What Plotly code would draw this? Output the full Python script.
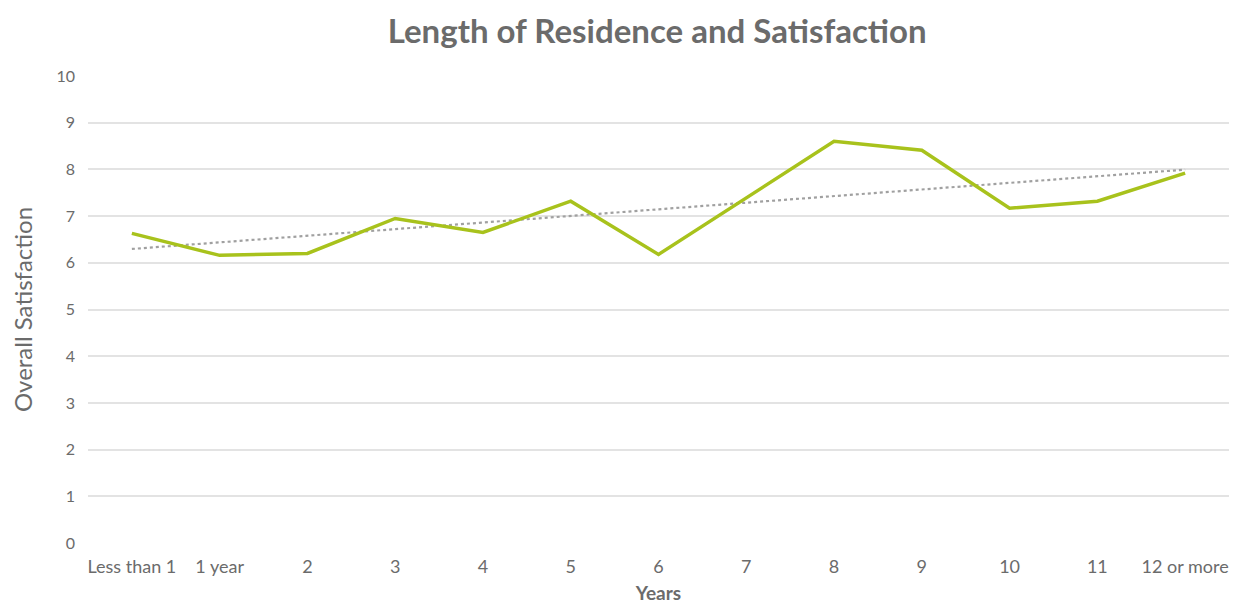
import numpy as np
import plotly.graph_objects as go

categories = ["Less than 1", "1 year", "2", "3", "4", "5", "6", "7", "8", "9", "10", "11", "12 or more"]
satisfaction = [6.63, 6.16, 6.20, 6.95, 6.65, 7.32, 6.18, 7.38, 8.60, 8.41, 7.17, 7.32, 7.92]
y_ticks = [0, 1, 2, 3, 4, 5, 6, 7, 8, 9, 10]

idx = np.arange(len(categories))
coef = np.polyfit(idx, satisfaction, 1)
trend = np.polyval(coef, idx)

fig = go.Figure()
fig.add_trace(go.Scatter(x=categories, y=trend, mode="lines",
                         line=dict(color="#a0a0a0", width=2.2, dash="dot"),
                         hoverinfo="skip", showlegend=False))
fig.add_trace(go.Scatter(x=categories, y=satisfaction, mode="lines",
                         line=dict(color="#a8c21c", width=3.5),
                         showlegend=False))

fig.update_layout(
    width=1246, height=602,
    margin=dict(l=80, r=25, t=68, b=67),
    paper_bgcolor="white", plot_bgcolor="white",
    font=dict(family="Lato, sans-serif", color="#6b6b6b"),
    title=dict(text="<b>Length of Residence and Satisfaction</b>",
               x=0.521, xanchor="center", y=0.961, yanchor="middle",
               font=dict(size=33, color="#6b6b6b", family="Lato, sans-serif")),
    xaxis=dict(type="category", range=[-0.5, 12.5], showgrid=False, automargin=False,
               showline=False, zeroline=False, ticks="", ticklabelstandoff=11,
               tickfont=dict(size=18, color="#6b6b6b"),
               title=dict(text="<b>Years</b>", font=dict(size=19, color="#6b6b6b"), standoff=10)),
    yaxis=dict(range=[0, 10], tickvals=y_ticks, showgrid=True, automargin=False,
               gridcolor="#e3e3e3", gridwidth=1.5, zeroline=False,
               showline=False, ticks="", ticklabelstandoff=12,
               tickfont=dict(size=16, color="#6b6b6b"),
               title=dict(text="Overall Satisfaction", font=dict(size=24, color="#6b6b6b"), standoff=26)),
)

fig.write_html("out.html")
